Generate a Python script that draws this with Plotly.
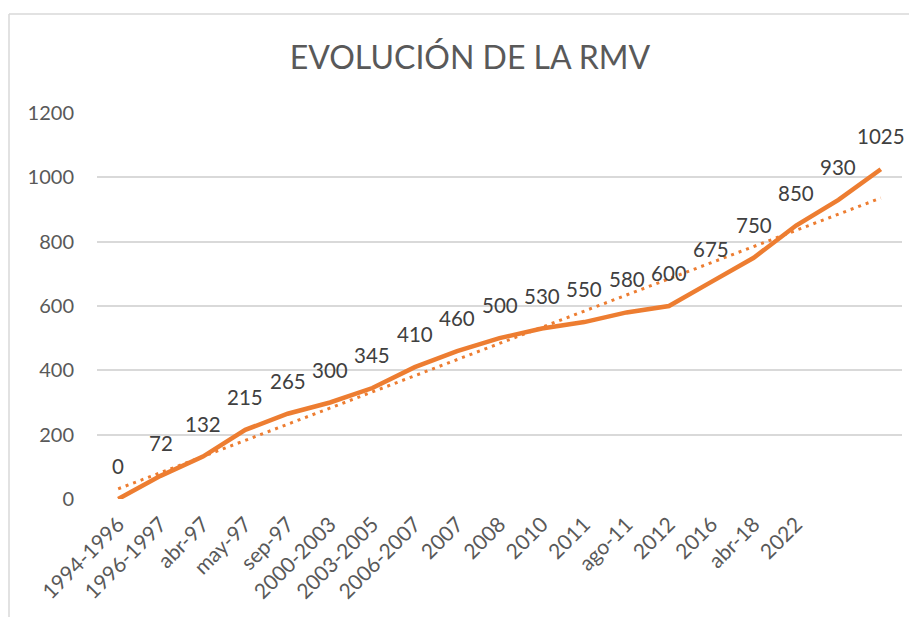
import numpy as np
import plotly.graph_objects as go

categories = ["1994-1996", "1996-1997", "abr-97", "may-97", "sep-97", "2000-2003",
              "2003-2005", "2006-2007", "2007", "2008", "2010", "2011", "ago-11",
              "2012", "2016", "abr-18", "2022", "", ""]
rmv = [0, 72, 132, 215, 265, 300, 345, 410, 460, 500, 530, 550, 580, 600,
       675, 750, 850, 930, 1025]
y_ticks = [0, 200, 400, 600, 800, 1000, 1200]

x = np.arange(len(rmv))
slope, intercept = np.polyfit(x, rmv, 1)
trend = slope * x + intercept

ORANGE = "#ED7D31"
FONT = "Lato"

fig = go.Figure()
fig.add_trace(go.Scatter(x=x, y=trend, mode="lines",
                         line=dict(color=ORANGE, width=3, dash="3px,5px"),
                         hoverinfo="skip", showlegend=False))
fig.add_trace(go.Scatter(x=x, y=rmv, mode="lines",
                         line=dict(color=ORANGE, width=4.5),
                         showlegend=False))

for xi, v in zip(x, rmv):
    fig.add_annotation(x=xi, y=v, text=str(v), showarrow=False, yshift=33,
                       xanchor="center", yanchor="middle",
                       font=dict(family=FONT, size=20.5, color="#404040"))

# page has an 8px body margin; compensate
OFF = 8
W, H = 917 - OFF, 617 - OFF
L, R, T, B = 97 - OFF, 15, 113 - OFF, 118
pw, ph = W - L - R, H - T - B
bx = (9 - OFF - L) / pw
by = (H - B - (14 - OFF)) / ph
fig.add_shape(type="line", xref="paper", yref="paper", x0=bx, x1=bx, y0=by, y1=-0.5,
              line=dict(color="#D9D9D9", width=1.5))
fig.add_shape(type="line", xref="paper", yref="paper", x0=bx, x1=1.2, y0=by, y1=by,
              line=dict(color="#D9D9D9", width=1.5))

fig.update_layout(
    width=W, height=H,
    margin=dict(l=L, r=R, t=T, b=B, autoexpand=False),
    paper_bgcolor="white", plot_bgcolor="white",
    font=dict(family=FONT, size=20, color="#595959"),
    title=dict(text="EVOLUCIÓN DE LA RMV", xref="container", yref="container",
               x=(470 - OFF) / W, y=1 - (58 - OFF) / H, xanchor="center", yanchor="middle",
               font=dict(family=FONT, size=32, color="#595959")),
    xaxis=dict(range=[-0.5, len(rmv) - 0.5], tickmode="array",
               tickvals=list(x[:len(categories)]), ticktext=categories,
               tickangle=-45, showgrid=False, zeroline=False, showline=False,
               ticks="", ticklabelstandoff=8,
               tickfont=dict(family=FONT, size=21, color="#595959")),
    yaxis=dict(range=[0, 1200], tickmode="array", tickvals=y_ticks,
               showgrid=True, gridcolor="#D9D9D9", gridwidth=1.5,
               zeroline=False, showline=False, ticks="", ticklabelstandoff=22,
               tickfont=dict(family=FONT, size=20, color="#595959")),
)

fig.write_html("out.html")
